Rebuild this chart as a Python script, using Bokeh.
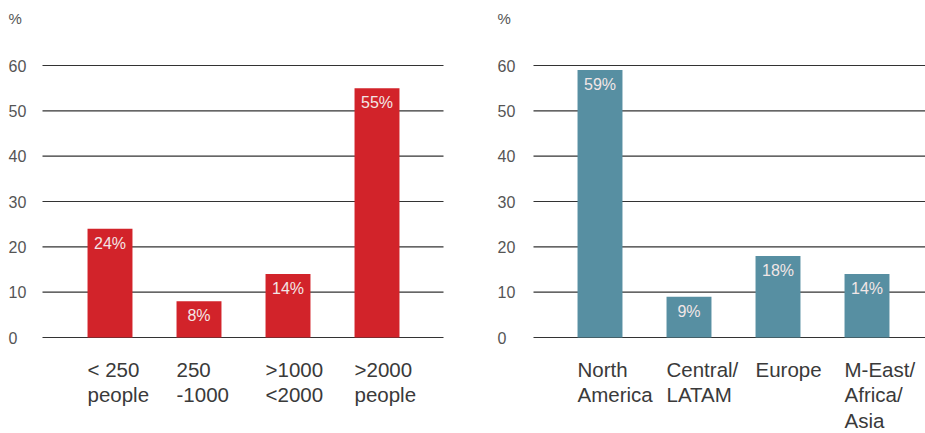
from bokeh.plotting import figure
from bokeh.layouts import row
from bokeh.models import ColumnDataSource, LabelSet, Label, Range1d
from bokeh.core.properties import value
from bokeh.embed import file_html
from bokeh.resources import INLINE

# Share of respondents by organisation size
size_labels = ["< 250\npeople", "250\n-1000", ">1000\n<2000", ">2000\npeople"]
size_values = [24, 8, 14, 55]

# Share of respondents by region
region_labels = ["North\nAmerica", "Central/\nLATAM", "Europe", "M-East/\nAfrica/\nAsia"]
region_values = [59, 9, 18, 14]

y_ticks = [0, 10, 20, 30, 40, 50, 60]
y_tick_labels = [str(t) for t in y_ticks]

FONT_NAME = "Liberation Sans"
FONT = value(FONT_NAME)
BAR_WIDTH = 0.505
PX_PER_CAT = 89.0          # horizontal distance between bar centres
PX_PER_UNIT = 272.0 / 60   # vertical pixels per percentage point
HEIGHT = 433
ZERO_Y = 337               # pixel row of the 0 line


def make_panel(labels, values, color, width, first_center, grid_left, grid_right,
               tick_offset):
    # the frame covers the whole figure; ranges are set so that one category
    # step and one percentage point keep a fixed pixel size
    x_start = -first_center / PX_PER_CAT
    x_end = (width - first_center) / PX_PER_CAT
    y_start = -(HEIGHT - ZERO_Y) / PX_PER_UNIT
    y_end = ZERO_Y / PX_PER_UNIT
    gx0 = (grid_left - first_center) / PX_PER_CAT
    gx1 = (grid_right - first_center) / PX_PER_CAT

    p = figure(width=width, height=HEIGHT,
               x_range=Range1d(x_start, x_end), y_range=Range1d(y_start, y_end),
               x_axis_type=None, y_axis_type=None,
               output_backend="svg", toolbar_location=None,
               min_border=0)
    p.outline_line_color = None
    p.grid.visible = False
    p.background_fill_color = "white"
    p.border_fill_color = "white"

    # horizontal gridlines
    p.segment(x0=[gx0] * len(y_ticks), x1=[gx1] * len(y_ticks),
              y0=y_ticks, y1=y_ticks, line_color="#333333", line_width=1.1)

    idx = list(range(len(values)))
    src = ColumnDataSource(dict(
        x=idx,
        top=values,
        left=[i - BAR_WIDTH / 2 for i in idx],
        zero=[0] * len(values),
        cat=labels,
        pct=[f"{v}%" for v in values],
    ))
    p.vbar(x="x", top="top", bottom=0, width=BAR_WIDTH, source=src,
           fill_color=color, line_color=None)

    # value labels inside the top of each bar
    p.add_layout(LabelSet(x="x", y="top", text="pct", source=src,
                          text_align="center", text_baseline="top", y_offset=-6,
                          text_font=FONT, text_font_size="16px",
                          text_color="#f2e6e6"))

    # category labels, left-aligned with the bar edge
    p.add_layout(LabelSet(x="left", y="zero", text="cat", source=src,
                          text_align="left", text_baseline="top", y_offset=-20,
                          text_font=FONT, text_font_size="20.5px",
                          text_line_height=1.11, text_color="#3a3a3a"))

    # y tick labels, left-aligned in the margin
    tsrc = ColumnDataSource(dict(x=[gx0] * len(y_ticks), y=y_ticks,
                                 t=y_tick_labels))
    p.add_layout(LabelSet(x="x", y="y", text="t", source=tsrc,
                          x_offset=tick_offset, text_align="left",
                          text_baseline="middle",
                          text_font=FONT, text_font_size="16px",
                          text_color="#555555"))

    p.add_layout(Label(x=gx0, y=y_ticks[-1], text="%", x_offset=tick_offset,
                       y_offset=47, text_align="left", text_baseline="middle",
                       text_font=FONT_NAME, text_font_size="15px",
                       text_color="#555555"))
    return p


left = make_panel(size_labels, size_values, "#D2232A", 462,
                  first_center=109.5, grid_left=42, grid_right=443,
                  tick_offset=-34)
right = make_panel(region_labels, region_values, "#578FA2", 463,
                   first_center=137.5, grid_left=71, grid_right=463,
                   tick_offset=-36)

layout = row(left, right)
open("out.html", "w").write(file_html(layout, INLINE))
